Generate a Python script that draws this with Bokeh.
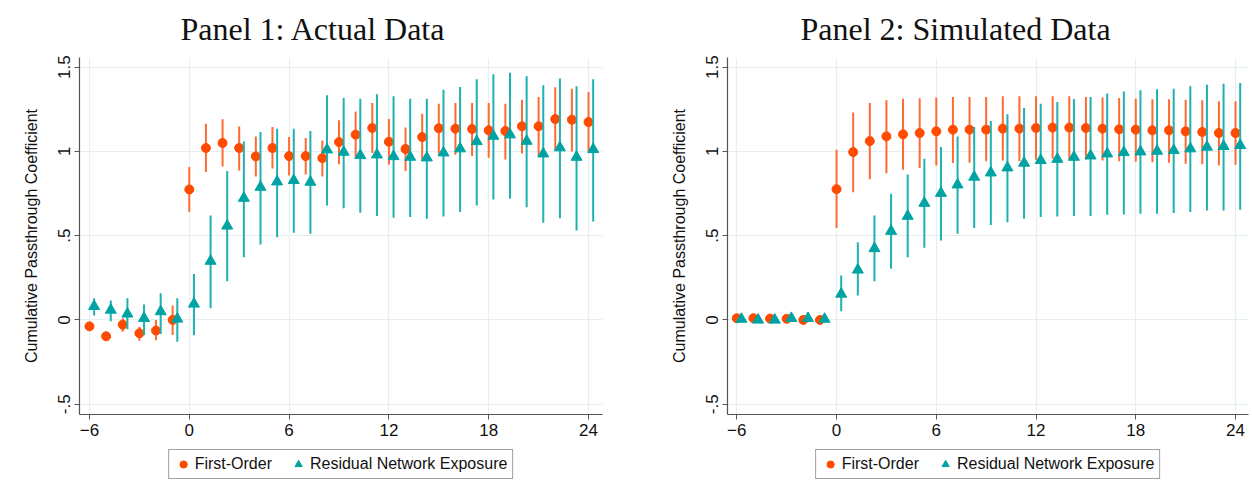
from bokeh.plotting import figure
from bokeh.layouts import row, column
from bokeh.models import FixedTicker, Range1d, Legend, LegendItem, Title
from bokeh.embed import file_html
from bokeh.resources import INLINE

periods = list(range(-6, 25))

# Panel 1: Actual Data
p1_fo = [-0.038, -0.097, -0.028, -0.079, -0.063, 0.0, 0.774, 1.02, 1.05, 1.02, 0.97, 1.02, 0.972, 0.972,
         0.96, 1.055, 1.099, 1.139, 1.057, 1.014, 1.085, 1.137, 1.135, 1.133, 1.125, 1.121, 1.149, 1.149,
         1.192, 1.188, 1.174]
p1_fo_lo = [-0.05, -0.11, -0.07, -0.123, -0.12, -0.09, 0.64, 0.877, 0.91, 0.887, 0.851, 0.899, 0.857, 0.863,
            0.851, 0.923, 0.962, 0.99, 0.921, 0.883, 0.95, 0.986, 0.98, 0.972, 0.962, 0.952, 0.988, 0.972,
            1.006, 1.0, 1.0]
p1_fo_hi = [-0.026, -0.085, 0.01, -0.04, 0.0, 0.085, 0.907, 1.164, 1.19, 1.148, 1.089, 1.145, 1.085, 1.08,
            1.065, 1.184, 1.236, 1.287, 1.192, 1.141, 1.224, 1.283, 1.287, 1.287, 1.287, 1.283, 1.307, 1.323,
            1.38, 1.372, 1.352]
p1_rn = [0.081, 0.059, 0.036, 0.01, 0.05, 0.006, 0.095, 0.349, 0.558, 0.723, 0.788, 0.82, 0.828, 0.818,
         1.01, 0.996, 0.976, 0.98, 0.97, 0.966, 0.962, 0.992, 1.016, 1.059, 1.091, 1.099, 1.061, 0.986,
         1.022, 0.966, 1.012]
p1_rn_lo = [0.026, -0.008, -0.055, -0.091, -0.083, -0.129, -0.091, 0.069, 0.23, 0.372, 0.448, 0.491, 0.517, 0.511,
            0.679, 0.663, 0.636, 0.616, 0.606, 0.61, 0.6, 0.614, 0.64, 0.679, 0.715, 0.719, 0.669, 0.576,
            0.604, 0.531, 0.584]
p1_rn_hi = [0.129, 0.115, 0.129, 0.091, 0.158, 0.129, 0.273, 0.62, 0.883, 1.059, 1.115, 1.135, 1.135, 1.121,
            1.333, 1.317, 1.313, 1.339, 1.327, 1.313, 1.313, 1.366, 1.382, 1.428, 1.457, 1.467, 1.446, 1.392,
            1.432, 1.386, 1.428]

# Panel 2: Simulated Data
p2_fo = [0.01, 0.01, 0.008, 0.007, 0.0, 0.0, 0.776, 0.996, 1.061, 1.089, 1.101, 1.109, 1.119, 1.129,
         1.129, 1.129, 1.135, 1.135, 1.139, 1.141, 1.141, 1.139, 1.135, 1.131, 1.129, 1.125, 1.125, 1.119,
         1.115, 1.109, 1.109]
p2_fo_lo = [0.005, 0.005, 0.003, 0.002, -0.005, -0.005, 0.545, 0.758, 0.834, 0.871, 0.891, 0.901, 0.917, 0.931,
            0.933, 0.941, 0.946, 0.942, 0.950, 0.956, 0.956, 0.952, 0.946, 0.942, 0.940, 0.936, 0.932, 0.927,
            0.923, 0.917, 0.921]
p2_fo_hi = [0.015, 0.015, 0.013, 0.012, 0.005, 0.005, 1.01, 1.23, 1.287, 1.303, 1.313, 1.315, 1.319, 1.323,
            1.323, 1.323, 1.327, 1.327, 1.327, 1.327, 1.327, 1.323, 1.319, 1.317, 1.313, 1.309, 1.309, 1.307,
            1.303, 1.297, 1.297]
p2_rn = [0.005, 0.0, 0.0, 0.01, 0.01, 0.005, 0.154, 0.297, 0.424, 0.527, 0.616, 0.693, 0.752, 0.802,
         0.848, 0.873, 0.903, 0.931, 0.947, 0.954, 0.966, 0.974, 0.986, 0.994, 0.998, 1.002, 1.006, 1.016,
         1.026, 1.03, 1.036]
p2_rn_lo = [0.0, -0.005, -0.005, 0.005, 0.005, 0.0, 0.051, 0.145, 0.23, 0.303, 0.372, 0.428, 0.471, 0.511,
            0.545, 0.564, 0.58, 0.6, 0.61, 0.614, 0.616, 0.616, 0.624, 0.626, 0.63, 0.63, 0.634, 0.64,
            0.65, 0.65, 0.653]
p2_rn_hi = [0.01, 0.005, 0.005, 0.015, 0.015, 0.01, 0.263, 0.461, 0.62, 0.749, 0.863, 0.956, 1.026, 1.089,
            1.145, 1.18, 1.22, 1.257, 1.283, 1.293, 1.311, 1.323, 1.343, 1.356, 1.362, 1.368, 1.372, 1.386,
            1.396, 1.402, 1.406]

x_ticks = [-6, 0, 6, 12, 18, 24]
y_ticks = [-0.5, 0, 0.5, 1, 1.5]
y_tick_labels = {-0.5: "-.5", 0: "0", 0.5: ".5", 1: "1", 1.5: "1.5"}
titles = ["Panel 1: Actual Data", "Panel 2: Simulated Data"]
series_names = ["First-Order", "Residual Network Exposure"]

ORANGE = "#fe4b00"
ORANGE_L = "#ff6a33"
TEAL = "#00a3a3"
TEAL_L = "#1fb0b0"
GRID = "#e6eff0"
SHIFT = 0.28
FIG_W = 626
LEG_H = 34
MAIN_H = 481 - LEG_H


def draw_series(p, xs1, y1, lo1, hi1, xs2, y2, lo2, hi2):
    p.segment(x0=xs1, y0=lo1, x1=xs1, y1=hi1, line_color=ORANGE_L, line_width=2)
    r1 = p.scatter(xs1, y1, marker="circle", size=9, fill_color=ORANGE, line_color=ORANGE)
    p.segment(x0=xs2, y0=lo2, x1=xs2, y1=hi2, line_color=TEAL_L, line_width=2)
    r2 = p.scatter(xs2, y2, marker="triangle", size=11, fill_color=TEAL, line_color=TEAL)
    return r1, r2


def make_panel(title, fo, fo_lo, fo_hi, rn, rn_lo, rn_hi, left, right, xr, title_off):
    p = figure(width=FIG_W, height=MAIN_H,
               output_backend="svg", toolbar_location=None,
               min_border_left=left, min_border_right=right, min_border_top=57,
               min_border_bottom=MAIN_H - 414,
               x_range=Range1d(*xr), y_range=Range1d(-0.561, 1.557))
    p.add_layout(Title(text=title, text_font="Liberation Serif", text_font_size="32px",
                       text_font_style="normal", text_color="#111111", align="left",
                       vertical_align="top", offset=title_off, standoff=17), "above")
    p.outline_line_color = None

    xs_rn = [x + SHIFT for x in periods]
    draw_series(p, periods, fo, fo_lo, fo_hi, xs_rn, rn, rn_lo, rn_hi)

    for ax in (p.xaxis[0], p.yaxis[0]):
        ax.axis_line_color = "#555555"
        ax.axis_line_width = 1.2
        ax.major_tick_line_color = "#555555"
        ax.major_tick_out = 5
        ax.major_tick_in = 0
        ax.minor_tick_out = 0
        ax.minor_tick_in = 0
        ax.major_label_text_font = "Liberation Sans"
        ax.major_label_text_font_size = "17px"
        ax.major_label_text_color = "#111111"
    p.xaxis.ticker = FixedTicker(ticks=x_ticks)
    p.xaxis.major_label_standoff = 4
    p.yaxis.ticker = FixedTicker(ticks=y_ticks)
    p.yaxis.major_label_overrides = y_tick_labels
    p.yaxis.major_label_orientation = "vertical"
    p.yaxis.major_label_standoff = 4
    p.yaxis.axis_label = "Cumulative Passthrough Coefficient"
    p.yaxis.axis_label_text_font = "Liberation Sans"
    p.yaxis.axis_label_text_font_size = "16px"
    p.yaxis.axis_label_text_font_style = "normal"
    p.yaxis.axis_label_text_color = "#111111"
    p.yaxis.axis_label_standoff = 16

    p.xgrid.grid_line_color = GRID
    p.ygrid.grid_line_color = GRID
    p.xgrid.grid_line_width = 1.2
    p.ygrid.grid_line_width = 1.2
    return p


def make_legend(fo, rn, left, right):
    # legend strip: the series are drawn here only so the legend can show their markers;
    # the visible range lies far outside the data, so no point is shown in the strip itself
    lf = figure(width=FIG_W, height=LEG_H, output_backend="svg", toolbar_location=None,
                x_range=Range1d(1000, 1001), y_range=Range1d(1000, 1001),
                x_axis_type=None, y_axis_type=None,
                min_border_left=left, min_border_right=right, min_border_top=0, min_border_bottom=0)
    lf.outline_line_color = None
    lf.xgrid.visible = False
    lf.ygrid.visible = False
    xs_rn = [x + SHIFT for x in periods]
    r1, r2 = draw_series(lf, periods, fo, fo, fo, xs_rn, rn, rn, rn)
    legend = Legend(items=[LegendItem(label=series_names[0], renderers=[r1]),
                           LegendItem(label=series_names[1], renderers=[r2])],
                    orientation="horizontal", location="center",
                    label_text_font="Liberation Sans", label_text_font_size="16px",
                    label_text_color="#111111",
                    border_line_color="#444444", border_line_width=1,
                    glyph_width=18, glyph_height=18, label_standoff=3, spacing=17,
                    padding=5, margin=0, label_height=16)
    lf.add_layout(legend, "center")
    return lf


p1 = make_panel(titles[0], p1_fo, p1_fo_lo, p1_fo_hi, p1_rn, p1_rn_lo, p1_rn_hi, 79, 24, (-6.6, 24.84), 101)
p2 = make_panel(titles[1], p2_fo, p2_fo_lo, p2_fo_hi, p2_rn, p2_rn_lo, p2_rn_hi, 101, 4, (-6.56, 24.78), 73)
l1 = make_legend(p1_fo, p1_rn, 79, 24)
l2 = make_legend(p2_fo, p2_rn, 101, 4)

layout = row(column(p1, l1, spacing=0), column(p2, l2, spacing=0), spacing=0)
open("out.html", "w").write(file_html(layout, INLINE))
